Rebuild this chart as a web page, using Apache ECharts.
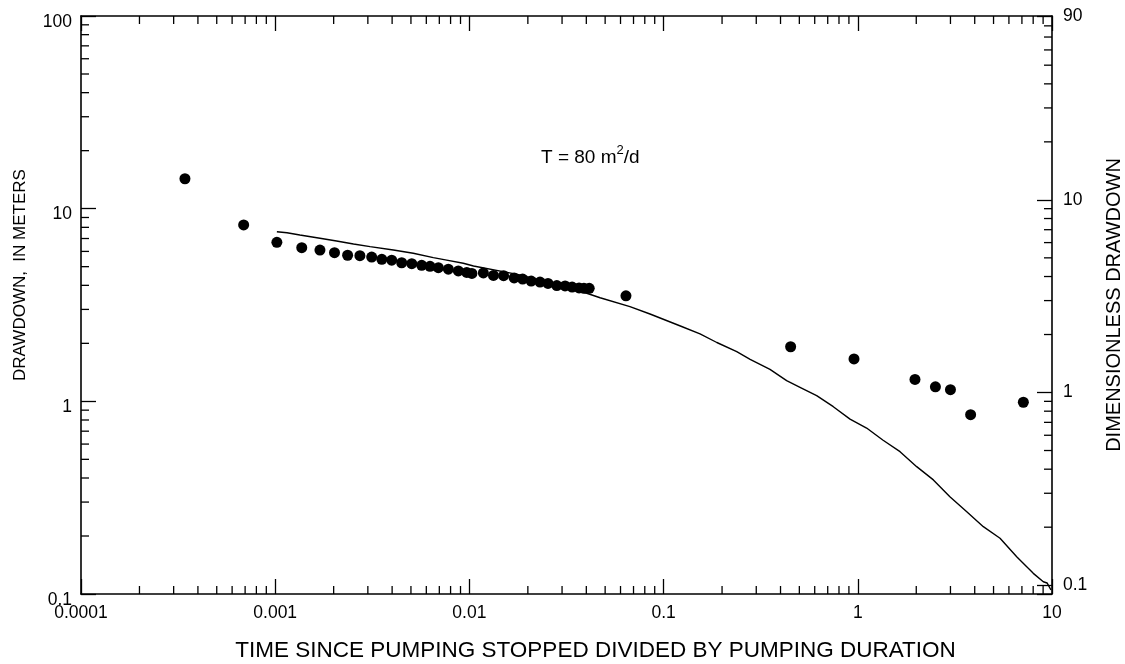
<!DOCTYPE html>
<html><head><meta charset="utf-8">
<script src="https://cdn.jsdelivr.net/npm/echarts@6/dist/echarts.min.js"></script>
<style>html,body{margin:0;padding:0;background:#fff}#c{width:1125px;height:664px}</style>
</head><body><div id="c"></div>
<script>
// ---- tick labels ----
const xTickLabels = ['0.0001', '0.001', '0.01', '0.1', '1', '10'];
const leftTickLabels = ['0.1', '1', '10', '100'];
const rightTickLabels = ['0.1', '1', '10', '90'];
const minorMultipliers = [2, 3, 4, 5, 6, 7, 8, 9];
const xDecades = [0.0001, 0.001, 0.01, 0.1, 1];
const leftDecades = [0.1, 1, 10];
const rightDecades = [0.1, 1, 10];

// ---- observed drawdown (dots) ----
const obsTime = [0.000343, 0.000688, 0.00102, 0.00137, 0.00170, 0.00202, 0.00236, 0.00273, 0.00314, 0.00354,
  0.00398, 0.00448, 0.00505, 0.00568, 0.00627, 0.00692, 0.00779, 0.00877, 0.00969, 0.0103,
  0.0118, 0.0133, 0.0150, 0.0170, 0.0188, 0.0208, 0.0231, 0.0254, 0.0282, 0.0311,
  0.0338, 0.0367, 0.0389, 0.0414, 0.0640, 0.451, 0.956, 1.97, 2.51, 3.00, 3.81, 7.12];
const obsDrawdown = [14.3, 8.23, 6.69, 6.27, 6.10, 5.91, 5.73, 5.70, 5.61, 5.46,
  5.40, 5.24, 5.18, 5.08, 5.02, 4.94, 4.85, 4.75, 4.67, 4.61,
  4.64, 4.50, 4.49, 4.37, 4.31, 4.21, 4.16, 4.09, 3.99, 3.97,
  3.92, 3.88, 3.86, 3.86, 3.53, 1.92, 1.66, 1.30, 1.19, 1.15, 0.852, 0.989];

// ---- type curve (line) ----
const curveTime = [0.00102, 0.00115, 0.00134, 0.00170, 0.00207, 0.00253, 0.00308, 0.00406, 0.00514, 0.00652,
  0.00764, 0.00930, 0.0105, 0.0182, 0.0293, 0.0402, 0.0471, 0.0671, 0.0851, 0.122,
  0.154, 0.188, 0.238, 0.279, 0.353, 0.430, 0.504, 0.614, 0.748, 0.912,
  1.11, 1.35, 1.65, 2.01, 2.45, 2.98, 3.64, 4.43, 5.40, 6.58,
  8.01, 9.02, 9.43, 9.88];
const curveDrawdown = [7.59, 7.50, 7.30, 7.02, 6.80, 6.56, 6.35, 6.10, 5.87, 5.57,
  5.41, 5.21, 5.04, 4.53, 3.99, 3.64, 3.45, 3.10, 2.84, 2.46,
  2.24, 2.02, 1.81, 1.653, 1.466, 1.280, 1.183, 1.070, 0.938, 0.809,
  0.727, 0.628, 0.548, 0.458, 0.391, 0.320, 0.2674, 0.2236, 0.1946, 0.1561,
  0.1280, 0.1158, 0.1141, 0.1049];

const X_MIN = 0.0001, X_MAX = 10, Y_MIN = 0.1, Y_MAX = 100, R_MIN = 0.09, R_MAX = 90;
const FONT = 'Liberation Sans, Arial, Helvetica, sans-serif';

function minorValues(decades, limit) {
  const out = [];
  decades.forEach(d => minorMultipliers.forEach(m => { const v = d * m; if (v < limit * 0.999) out.push(v); }));
  return out;
}
const xMinor = minorValues(xDecades, X_MAX);
const leftMinor = minorValues(leftDecades, Y_MAX);
const rightMinor = minorValues(rightDecades, R_MAX);

function decadeLabel(labels, first) {
  return function (v) {
    const e = Math.log10(v) - Math.log10(first);
    const r = Math.round(e);
    if (Math.abs(e - r) < 0.01 && r >= 0 && r < labels.length) return labels[r];
    return '';
  };
}
function rightLabel(v) {
  const e = Math.log10(v) + 1;
  const r = Math.round(e);
  if (Math.abs(e - r) < 0.01 && r >= 0 && r < 3) return rightTickLabels[r];
  if (Math.abs(v - R_MAX) / R_MAX < 0.01) return rightTickLabels[3];
  return '';
}

const MINOR_LEN = 8;
function tickSeries(data, dir, yAxisIndex) {
  return {
    type: 'custom', xAxisIndex: 0, yAxisIndex: yAxisIndex, silent: true, clip: false, z: 5,
    data: data,
    renderItem: function (params, api) {
      const p = api.coord([api.value(0), api.value(1)]);
      const q = [p[0] + dir[0] * MINOR_LEN, p[1] + dir[1] * MINOR_LEN];
      return { type: 'line', shape: { x1: p[0], y1: p[1], x2: q[0], y2: q[1] },
        style: { stroke: '#000', lineWidth: 1.3 } };
    }
  };
}

const axisLine = { show: true, lineStyle: { color: '#000', width: 1.6 } };
const majorTick = { show: true, inside: true, length: 15, lineStyle: { color: '#000', width: 1.3 } };
const labelStyle = { color: '#000', fontFamily: FONT, fontSize: 17.5 };

const chart = echarts.init(document.getElementById('c'), null, { renderer: 'canvas' });
chart.setOption({
  animation: false,
  backgroundColor: '#fff',
  grid: { left: 81, right: 73, top: 16, bottom: 70, containLabel: false, outerBoundsMode: 'none' },
  xAxis: [
    { type: 'log', logBase: 10, min: X_MIN, max: X_MAX, position: 'bottom',
      axisLine: axisLine, axisTick: majorTick, splitLine: { show: false }, minorTick: { show: false },
      axisLabel: Object.assign({ margin: 10, formatter: decadeLabel(xTickLabels, X_MIN), showMinLabel: true, showMaxLabel: true }, labelStyle),
      name: 'TIME SINCE PUMPING STOPPED DIVIDED BY PUMPING DURATION', nameLocation: 'middle', nameGap: 57,
      nameTextStyle: { color: '#000', fontFamily: FONT, fontSize: 22.5, verticalAlign: 'middle', padding: [0, 0, 0, 58] } },
    { type: 'log', logBase: 10, min: X_MIN, max: X_MAX, position: 'top',
      axisLine: axisLine, axisTick: majorTick, splitLine: { show: false }, axisLabel: { show: false } }
  ],
  yAxis: [
    { type: 'log', logBase: 10, min: Y_MIN, max: Y_MAX, position: 'left',
      axisLine: axisLine, axisTick: majorTick, splitLine: { show: false },
      axisLabel: Object.assign({ margin: 9, verticalAlign: 'top', lineHeight: 12, formatter: decadeLabel(leftTickLabels, Y_MIN) }, labelStyle),
      name: 'DRAWDOWN,  IN METERS', nameLocation: 'middle', nameGap: 61, nameRotate: 90,
      nameTextStyle: { color: '#000', fontFamily: FONT, fontSize: 17, verticalAlign: 'middle', padding: [0, 0, 0, 60] } },
    { type: 'log', logBase: 10, min: R_MIN, max: R_MAX, position: 'right',
      axisLine: axisLine, axisTick: majorTick, splitLine: { show: false },
      axisLabel: Object.assign({ margin: 11, formatter: rightLabel, showMinLabel: true, showMaxLabel: true }, labelStyle),
      name: 'DIMENSIONLESS DRAWDOWN', nameLocation: 'middle', nameGap: 62, nameRotate: 90,
      nameTextStyle: { color: '#000', fontFamily: FONT, fontSize: 20, verticalAlign: 'middle' } }
  ],
  graphic: [{
    type: 'text', left: 541, top: 144, z: 10,
    style: {
      text: '{a|T = 80 m}{s|2}{a|/d}',
      rich: {
        a: { fontFamily: FONT, fontSize: 19, fill: '#000', verticalAlign: 'bottom', lineHeight: 20 },
        s: { fontFamily: FONT, fontSize: 13, fill: '#000', verticalAlign: 'bottom', lineHeight: 14, padding: [0, 0, 10, 0] }
      }
    }
  }],
  series: [
    { name: 'type curve', type: 'line', xAxisIndex: 0, yAxisIndex: 0,
      data: curveTime.map((t, i) => [t, curveDrawdown[i]]),
      showSymbol: false, symbol: 'none', lineStyle: { color: '#000', width: 1.4 }, z: 2 },
    { name: 'observed', type: 'scatter', xAxisIndex: 0, yAxisIndex: 0,
      data: obsTime.map((t, i) => [t, obsDrawdown[i]]),
      symbol: 'circle', symbolSize: 11, itemStyle: { color: '#000', opacity: 1 }, z: 3 },
    tickSeries(xMinor.map(v => [v, Y_MIN]), [0, -1], 0),
    tickSeries(xMinor.map(v => [v, Y_MAX]), [0, 1], 0),
    tickSeries(leftMinor.map(v => [X_MIN, v]), [1, 0], 0),
    tickSeries(rightMinor.map(v => [X_MAX, v]), [-1, 0], 1)
  ]
});
</script>
</body></html>
